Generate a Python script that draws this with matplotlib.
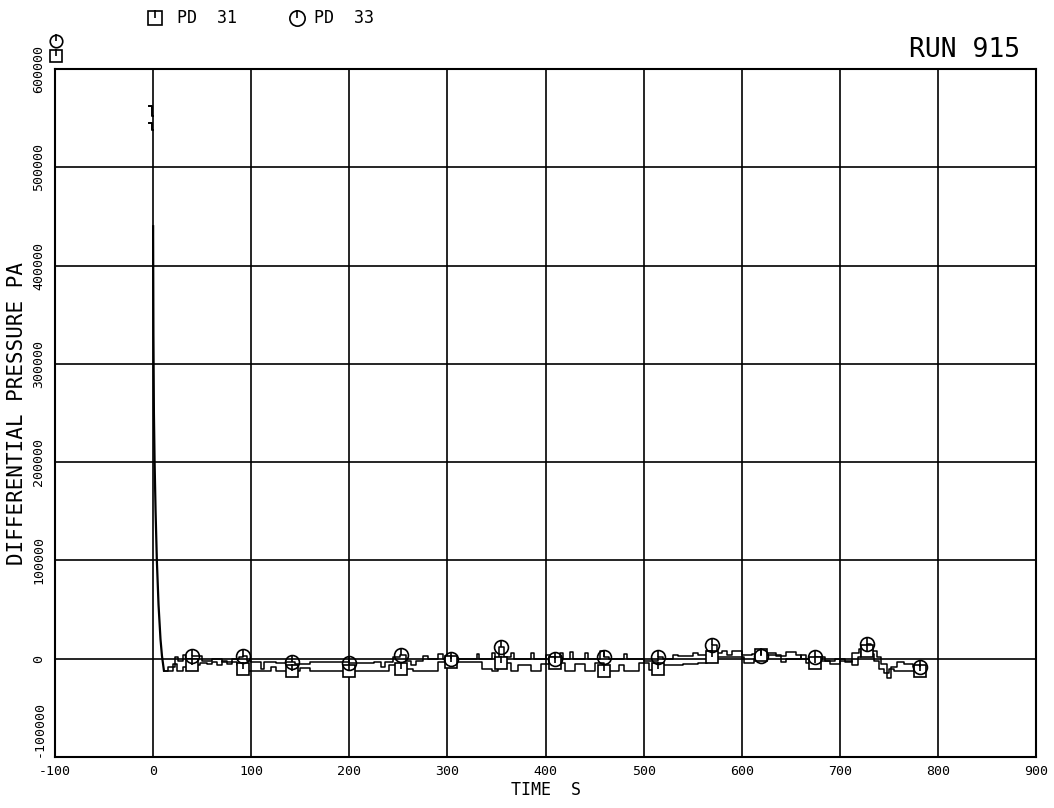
import numpy as np
import matplotlib.pyplot as plt
from matplotlib.lines import Line2D

# initial blow-down, shared by both gauges
decay_t = [0.0, 0.0, 0.3, 0.8, 1.5, 2.5, 3.8, 5.5, 7.5, 9.0, 11.0]
decay_p = [440000, 430000, 330000, 250000, 200000, 150000, 100000, 55000, 20000, 3000, -12000]

# short readings before t=0 (top left of the plot)
pre_t31 = [-4, -1.5, -1.5, -0.5]
pre_p31 = [562000, 562000, 552000, 552000]
pre_t33 = [-4, -1.5, -1.5, -0.5]
pre_p33 = [545000, 545000, 538000, 538000]

# PD 31 (squares)
t31 = [11, 20, 24, 30, 35, 40, 48, 55, 60, 65, 70, 75, 80, 85, 90, 95, 120, 125, 150, 160,
       240, 250, 265, 290, 330, 335, 345, 352, 365, 372, 385, 395, 405, 420, 430, 440, 450,
       460, 475, 480, 495, 505, 515, 520, 540, 555, 565, 600, 602, 612, 620, 640, 645, 660,
       665, 680, 690, 700, 712, 718, 722, 730, 735, 740, 745, 750, 755, 765, 785]
p31 = [-12000, -5000, -12000, -8000, -3000, -6000, -4000, -5000, -3000, -6000, -2000, -5000,
       -3000, -6000, -10000, -12000, -8000, -12000, -9000, -12000, -6000, -10000, -12000,
       -3000, -3000, -10000, -12000, -4000, -12000, -6000, -12000, -5000, -4000, -12000,
       -5000, -12000, -4000, -12000, -6000, -12000, -4000, -11000, -10000, -6000, -5000,
       -4000, 2000, 2000, -4000, 0, 4000, -3000, 0, 4000, -4000, -2000, -5000, -2000, -6000,
       2000, 8000, 5000, -2000, -10000, -15000, -10000, -12000, -12000, -12000]

# PD 33 (circles)
t33 = [11, 15, 22, 25, 30, 33, 40, 50, 60, 70, 80, 88, 92, 96, 100, 110, 113, 125, 135, 145,
       160, 200, 225, 232, 236, 245, 252, 258, 263, 268, 275, 280, 290, 295, 305, 310, 330,
       332, 345, 348, 353, 358, 365, 368, 385, 388, 400, 405, 410, 415, 418, 425, 428, 440,
       443, 455, 460, 465, 480, 483, 500, 515, 520, 530, 535, 550, 555, 565, 570, 575, 580,
       585, 590, 600, 610, 615, 625, 635, 645, 655, 660, 675, 685, 695, 705, 712, 720, 728,
       732, 738, 742, 748, 752, 758, 765, 775, 785]
p33 = [-12000, -8000, 2000, -2000, 4000, 0, 3000, -2000, 0, -3000, 0, 2000, 3000, -2000,
       -3000, -10000, -3000, -4000, -3000, -5000, -3000, -4000, -3000, -8000, -3000, 2000,
       4000, -2000, -6000, -2000, 3000, 0, 5000, 0, 2000, 0, 5000, 0, 6000, 0, 12000, 2000,
       6000, 0, 6000, 0, 4000, 2000, 0, 6000, 0, 7000, 0, 6000, 0, 8000, 2000, 0, 5000, 0,
       -2000, 2000, 0, 4000, 3000, 6000, 4000, 8000, 14000, 6000, 8000, 4000, 8000, 4000,
       5000, 3000, 6000, 3000, 7000, 4000, 0, 2000, -2000, 0, -3000, 6000, 10000, 15000,
       8000, 2000, -5000, -20000, -8000, -3000, -5000, -8000, -8000]

# symbol positions along the curves
mark_t = [40, 92, 142, 200, 253, 304, 355, 410, 460, 515, 570, 620, 675, 728, 782]

x_ticks = np.arange(-100, 901, 100)
y_ticks = np.arange(-100000, 600001, 100000)


def step_at(t, p, when):
    t = np.asarray(t)
    p = np.asarray(p)
    idx = np.searchsorted(t, when, side="right") - 1
    return p[np.clip(idx, 0, len(p) - 1)]


plt.rcParams["font.family"] = ["DejaVu Sans Mono", "DejaVu Sans"]

fig = plt.figure(figsize=(10.54, 8.08), dpi=100)
ax = fig.add_axes([0.0522, 0.0631, 0.9308, 0.8515])

ax.set_xlim(-100, 900)
ax.set_ylim(-100000, 600000)
ax.set_xticks(x_ticks)
ax.set_yticks(y_ticks)
ax.set_xticklabels([str(v) for v in x_ticks])
ax.set_yticklabels([str(v) for v in y_ticks], rotation=90, va="center")
ax.tick_params(length=0, labelsize=9.5)
ax.tick_params(axis="x", pad=6)
ax.tick_params(axis="y", pad=7)
# lowest y label sits above its tick so it clears the -100 label
ax.get_yticklabels()[0].set_va("bottom")
ax.grid(True, color="black", linewidth=1.2)
ax.set_axisbelow(True)
for s in ax.spines.values():
    s.set_linewidth(1.5)

lw = 1.1
ax.plot(decay_t, decay_p, color="black", lw=1.6)
ax.plot(pre_t31, pre_p31, color="black", lw=1.4)
ax.plot(pre_t33, pre_p33, color="black", lw=1.4)
ax.plot(t31, p31, color="black", lw=lw, drawstyle="steps-post")
ax.plot(t33, p33, color="black", lw=lw, drawstyle="steps-post")

m31 = step_at(t31, p31, mark_t)
m33 = step_at(t33, p33, mark_t)
ax.plot(mark_t, m31, ls="none", marker="s", ms=9, mfc="white", mec="black", mew=1.2)
ax.plot(mark_t, m31, ls="none", marker=2, ms=5, color="black", mew=1.2)
ax.plot(mark_t, m33, ls="none", marker="o", ms=10, mfc="none", mec="black", mew=1.2)
ax.plot(mark_t, m33, ls="none", marker=2, ms=5, color="black", mew=1.2)

ax.set_xlabel("TIME  S", fontsize=12, labelpad=2)
ax.set_ylabel("DIFFERENTIAL PRESSURE PA", fontsize=15, labelpad=4)

fig.text(0.968, 0.922, "RUN 915", fontsize=19, ha="right", va="bottom")

# legend strip at the top
def fig_marker(x, y, m, size):
    fig.add_artist(Line2D([x], [y], transform=fig.transFigure, marker=m, ms=size,
                          mfc="white", mec="black", mew=1.2, ls="none"))
    fig.add_artist(Line2D([x], [y], transform=fig.transFigure, marker=2, ms=size * 0.55,
                          color="black", mew=1.2, ls="none"))

fig_marker(155 / 1054, 1 - 18 / 808, "s", 10)
fig.text(177 / 1054, 1 - 18 / 808, "PD  31", fontsize=12, va="center")
fig_marker(297 / 1054, 1 - 18 / 808, "o", 11)
fig.text(314 / 1054, 1 - 18 / 808, "PD  33", fontsize=12, va="center")
fig_marker(56 / 1054, 1 - 41 / 808, "o", 9)
fig_marker(56 / 1054, 1 - 56 / 808, "s", 9)

fig.savefig("out.png", dpi=100)
